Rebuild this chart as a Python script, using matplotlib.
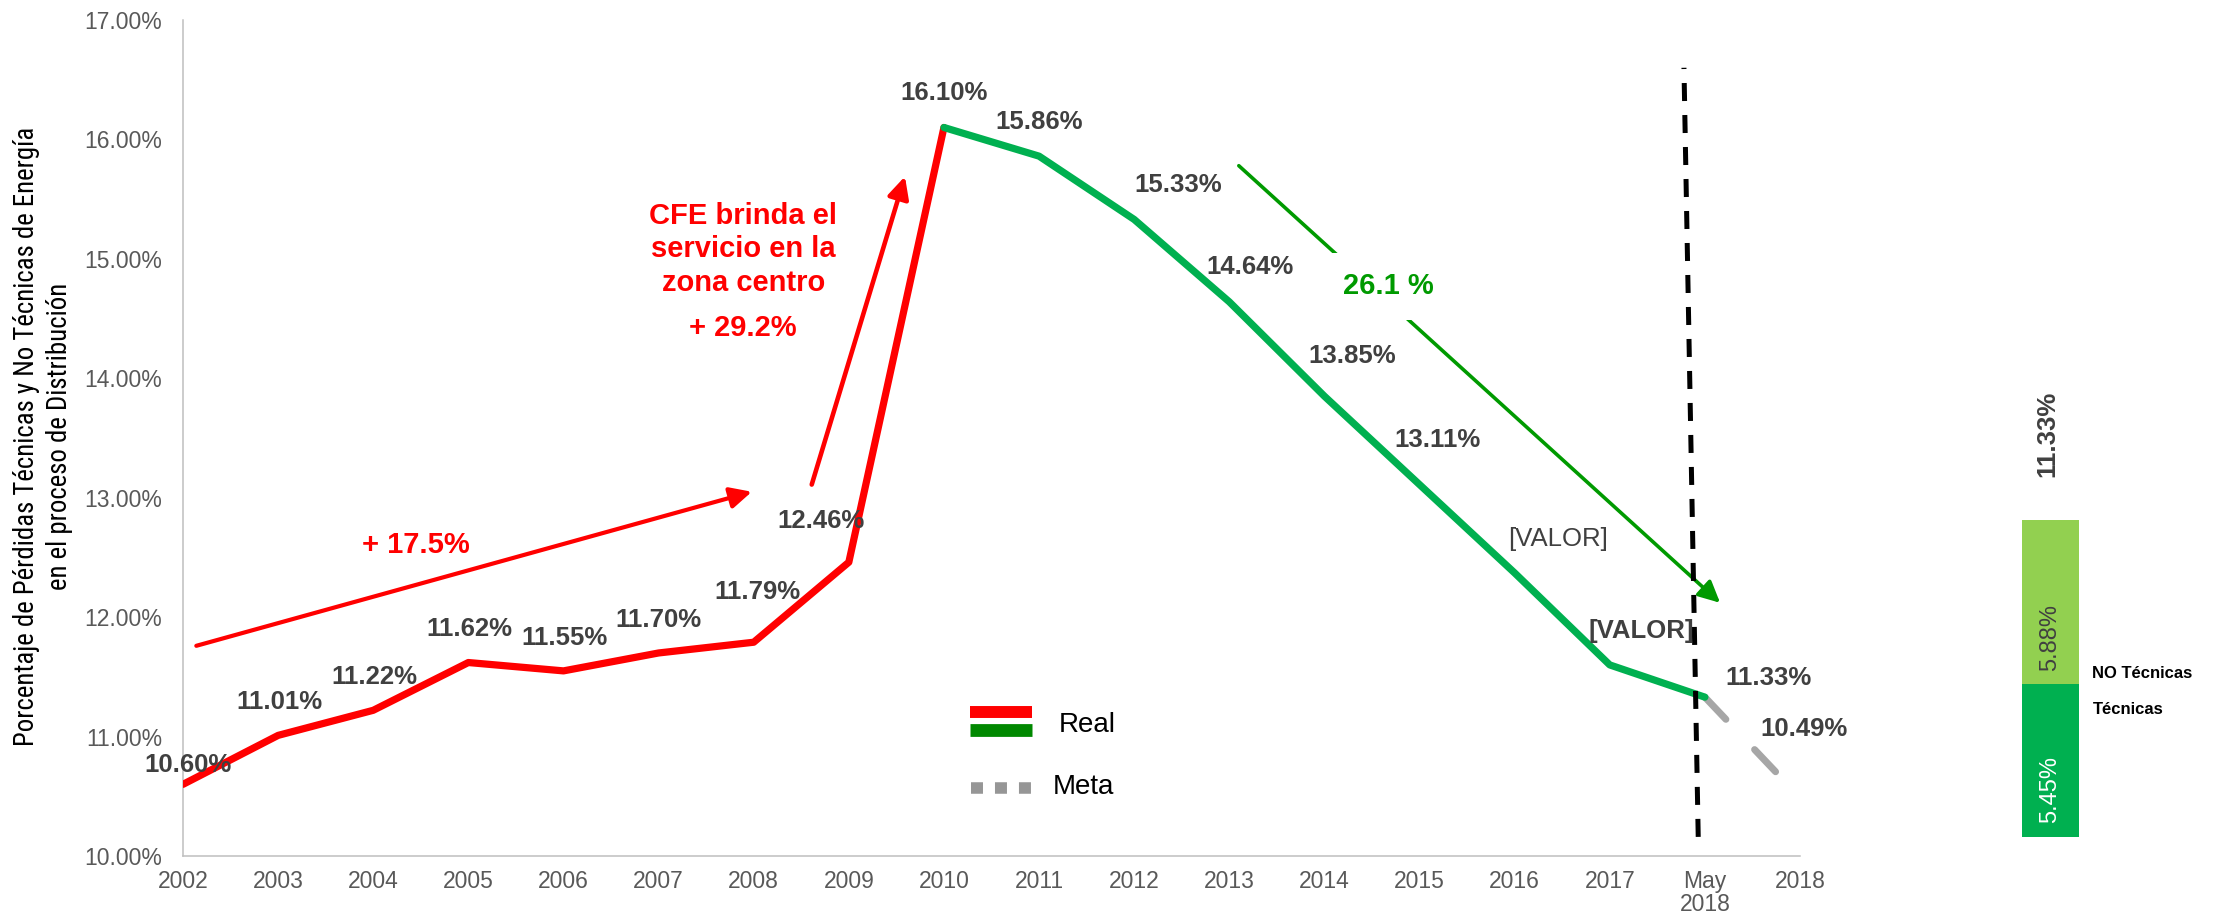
import matplotlib
matplotlib.use('Agg')
import matplotlib.pyplot as plt
from matplotlib.patches import FancyArrowPatch
from matplotlib.lines import Line2D
from matplotlib import font_manager
from matplotlib.font_manager import FontProperties

# ---------------- data ----------------
years = ['2002', '2003', '2004', '2005', '2006', '2007', '2008', '2009', '2010',
         '2011', '2012', '2013', '2014', '2015', '2016', '2017', 'May\n2018', '2018']
real_values = [10.60, 11.01, 11.22, 11.62, 11.55, 11.70, 11.79, 12.46, 16.10,
               15.86, 15.33, 14.64, 13.85, 13.11, 12.37, 11.60, 11.33]
real_labels = ['10.60%', '11.01%', '11.22%', '11.62%', '11.55%', '11.70%', '11.79%',
               '12.46%', '16.10%', '15.86%', '15.33%', '14.64%', '13.85%', '13.11%',
               '[VALOR]', '[VALOR]', '11.33%']
meta_values = [11.33, 10.49]
meta_labels = ['', '10.49%']
red_until = 8          # index of 2010: red up to here, green afterwards
yticks = [10, 11, 12, 13, 14, 15, 16, 17]

stack_names = ['Técnicas', 'NO Técnicas']
stack_values = [5.45, 5.88]
stack_total = 11.33

ylabel_lines = ['Porcentaje de Pérdidas Técnicas y No Técnicas de Energía',
                'en el proceso de Distribución']

# ---------------- fonts ----------------
avail = {f.name for f in font_manager.fontManager.ttflist}
def pick(fams):
    for f in fams:
        if f in avail:
            return f
    return 'DejaVu Sans'
SANS = pick(['Liberation Sans', 'Arial', 'DejaVu Sans'])
plt.rcParams['font.family'] = [SANS, 'DejaVu Sans']

def narrow_font():
    entries = font_manager.fontManager.ttflist
    def is_regular(f):
        return f.style == 'normal' and f.weight in (400, 'normal', 'regular', 'book')
    prefs = [
        lambda f: f.name == 'Liberation Sans Narrow',
        lambda f: 'Open Sans' in f.name and ('Condensed' in f.name or f.stretch in ('condensed', 'semi-condensed')),
        lambda f: 'Noto Sans' in f.name and ('Condensed' in f.name or f.stretch in ('condensed', 'semi-condensed')) and 'CJK' not in f.name,
        lambda f: 'Roboto' in f.name and ('Condensed' in f.name or f.stretch in ('condensed', 'semi-condensed')),
        lambda f: 'DejaVu Sans' in f.name and ('Condensed' in f.name or f.stretch in ('condensed', 'semi-condensed')),
    ]
    for p in prefs:
        for f in entries:
            try:
                if is_regular(f) and p(f):
                    return f.fname
            except Exception:
                pass
    return None

W, H = 2225, 924
fig = plt.figure(figsize=(W / 100, H / 100), dpi=100)
fx = lambda px: px / W
fy = lambda py: 1 - py / H

ax = fig.add_axes([fx(183), fy(856), fx(1800) - fx(183), fy(20) - fy(856)])
x = list(range(len(years)))

# real line
ax.plot(x[:red_until + 1], real_values[:red_until + 1], color='#FF0000', lw=5.2,
        solid_joinstyle='round', solid_capstyle='round', zorder=3)
ax.plot(x[red_until:len(real_values)], real_values[red_until:], color='#00B050', lw=5.2,
        solid_joinstyle='round', solid_capstyle='round', zorder=4)
# meta line
mx = x[len(real_values) - 1:len(real_values) - 1 + len(meta_values)]
ml, = ax.plot(mx, meta_values, color='#A6A6A6', lw=5, zorder=3)
ml.set_dashes((4.4, 6.0))
ml.set_dash_capstyle('round')

ax.set_xlim(0, len(years) - 1)
ax.set_ylim(yticks[0], yticks[-1])
ax.set_yticks(yticks)
ax.set_yticklabels([f'{v:.2f}%' for v in yticks])
ax.set_xticks(x)
ax.set_xticklabels(years, linespacing=1.0)
ax.tick_params(axis='both', length=0, labelsize=16.5, colors='#595959')
ax.tick_params(axis='y', pad=15)
ax.tick_params(axis='x', pad=10)
for s in ['top', 'right']:
    ax.spines[s].set_visible(False)
for s in ['left', 'bottom']:
    ax.spines[s].set_color('#BFBFBF')
    ax.spines[s].set_linewidth(1.1)

# data labels
offsets = [(3.6, 13.7), (0.7, 23.8), (0.7, 23.8), (0.7, 23.8), (0.7, 23.8), (0, 23.5),
           (3, 36), (-20, 29.5), (0, 24.5), (0, 24.5), (31.7, 24.5), (15, 25),
           (20, 29), (13, 32), (31, 24.5), (23, 24.5), (46, 13.7)]
for i, (v, lbl) in enumerate(zip(real_values, real_labels)):
    weight = 'normal' if i == 14 else 'bold'
    ax.annotate(lbl, (x[i], v), xytext=offsets[i], textcoords='offset points',
                ha='center', va='center', fontsize=18.5, fontweight=weight,
                color='#404040', zorder=6)
for xi, v, lbl in zip(mx, meta_values, meta_labels):
    if lbl:
        ax.annotate(lbl, (xi, v), xytext=(3, 49), textcoords='offset points',
                    ha='center', va='center', fontsize=18.5, fontweight='bold',
                    color='#404040', clip_on=False, zorder=6)

# vertical dashed line (May 2018)
vl = Line2D([15.93, 15.78], [10.16, 16.60], color='black', lw=3.6, zorder=5)
vl.set_dashes((3.6, 2.8))
ax.add_line(vl)

# red arrows
a1 = FancyArrowPatch((0.14, 11.76), (5.98, 13.05),
                     arrowstyle='-|>,head_length=0.65,head_width=0.32',
                     mutation_scale=20, color='#FF0000', lw=3.0, shrinkA=0, shrinkB=0)
ax.add_patch(a1)
a2 = FancyArrowPatch((6.61, 13.11), (7.59, 15.69),
                     arrowstyle='-|>,head_length=0.65,head_width=0.32',
                     mutation_scale=20, color='#FF0000', lw=3.3, shrinkA=0, shrinkB=0)
ax.add_patch(a2)
ax.text(2.45, 12.60, '+ 17.5%', color='#FF0000', fontsize=21, fontweight='bold',
        ha='center', va='center')
ax.text(5.89, 15.08, 'CFE brinda el\nservicio en la\nzona centro', color='#FF0000',
        fontsize=21, fontweight='bold', ha='center', va='center', linespacing=1.25)
ax.text(5.89, 14.42, '+ 29.2%', color='#FF0000', fontsize=21, fontweight='bold',
        ha='center', va='center')

# green arrow
a3 = FancyArrowPatch((11.10, 15.78), (16.16, 12.12),
                     arrowstyle='-|>,head_length=0.65,head_width=0.32',
                     mutation_scale=20, color='#009A00', lw=2.6, shrinkA=0, shrinkB=0,
                     zorder=2)
ax.add_patch(a3)
ax.text(12.67, 14.77, '26.1 %', color='#009A00', fontsize=21, fontweight='bold',
        ha='center', va='center', zorder=3,
        bbox=dict(facecolor='white', edgecolor='none', pad=14))

# legend (manual)
fig.add_artist(Line2D([fx(970), fx(1032)], [fy(712)] * 2, transform=fig.transFigure,
                      color='#FF0000', lw=8.6, solid_capstyle='butt'))
fig.add_artist(Line2D([fx(970), fx(1032)], [fy(729.5)] * 2, transform=fig.transFigure,
                      color='#008800', lw=9.2, solid_capstyle='butt'))
fig.text(fx(1059), fy(725), 'Real', fontsize=20, color='black', ha='left', va='center')
gl = Line2D([fx(971), fx(1031)], [fy(787.5)] * 2, transform=fig.transFigure,
            color='#969696', lw=8.3, solid_capstyle='butt')
gl.set_dashes((1.04, 1.04))
fig.add_artist(gl)
fig.text(fx(1053), fy(787), 'Meta', fontsize=20, color='black', ha='left', va='center')

# y label: fit a narrow font to the reference length / line pitch
nf = narrow_font()
if nf:
    yl_prop = FontProperties(fname=nf)
else:
    yl_prop = FontProperties(family=pick(['Open Sans', 'Liberation Sans']))
renderer = fig.canvas.get_renderer()
size = 19.5
target_len = 622.0     # px, length of first line
target_pitch = 34.0    # px, distance between the two lines
for _ in range(3):
    yl_prop.set_size(size)
    t = fig.text(0, 0, ylabel_lines[0], fontproperties=yl_prop)
    L = t.get_window_extent(renderer).width
    t.remove()
    size = size * target_len / L
yl_prop.set_size(size)
t1 = fig.text(0, 0, ylabel_lines[0], fontproperties=yl_prop, linespacing=1.2)
h1 = t1.get_window_extent(renderer).height
t1.remove()
t2 = fig.text(0, 0, '\n'.join(ylabel_lines), fontproperties=yl_prop, linespacing=1.2)
h2 = t2.get_window_extent(renderer).height
t2.remove()
pitch = max(h2 - h1, 1.0)
ls = 1.2 * target_pitch / pitch
fig.text(fx(43), fy(436), '\n'.join(ylabel_lines), rotation=90, ha='center', va='center',
         fontproperties=yl_prop, color='black', multialignment='center', linespacing=ls)

# stacked bar on the right
px_per_unit = 28.0
top_units = 16
bax = fig.add_axes([fx(2000), fy(837), fx(2100) - fx(2000), (top_units * px_per_unit) / H])
bax.set_xlim(-1, 1)
bax.set_ylim(0, top_units)
bax.axis('off')
colors = ['#00B050', '#92D050']
txtcol = ['white', '#404040']
bottom = 0
for name, v, c, tc in zip(stack_names, stack_values, colors, txtcol):
    bax.bar(0, v, bottom=bottom, width=1.14, color=c, edgecolor='none')
    bax.annotate(f'{v:.2f}%', (0, bottom), xytext=(0, 10), textcoords='offset points',
                 rotation=90, ha='center', va='bottom', fontsize=17, color=tc)
    bottom += v
bax.annotate(f'{stack_total:.2f}%', (0, stack_total), xytext=(-2, 31),
             textcoords='offset points', rotation=90, ha='center', va='bottom',
             fontsize=18.5, fontweight='bold', color='#404040')
fig.text(fx(2092), fy(673), stack_names[1], fontsize=12, fontweight='bold',
         color='black', ha='left', va='center')
fig.text(fx(2093), fy(710), stack_names[0], fontsize=12, fontweight='bold',
         color='black', ha='left', va='center')

fig.savefig('out.png', dpi=100)
